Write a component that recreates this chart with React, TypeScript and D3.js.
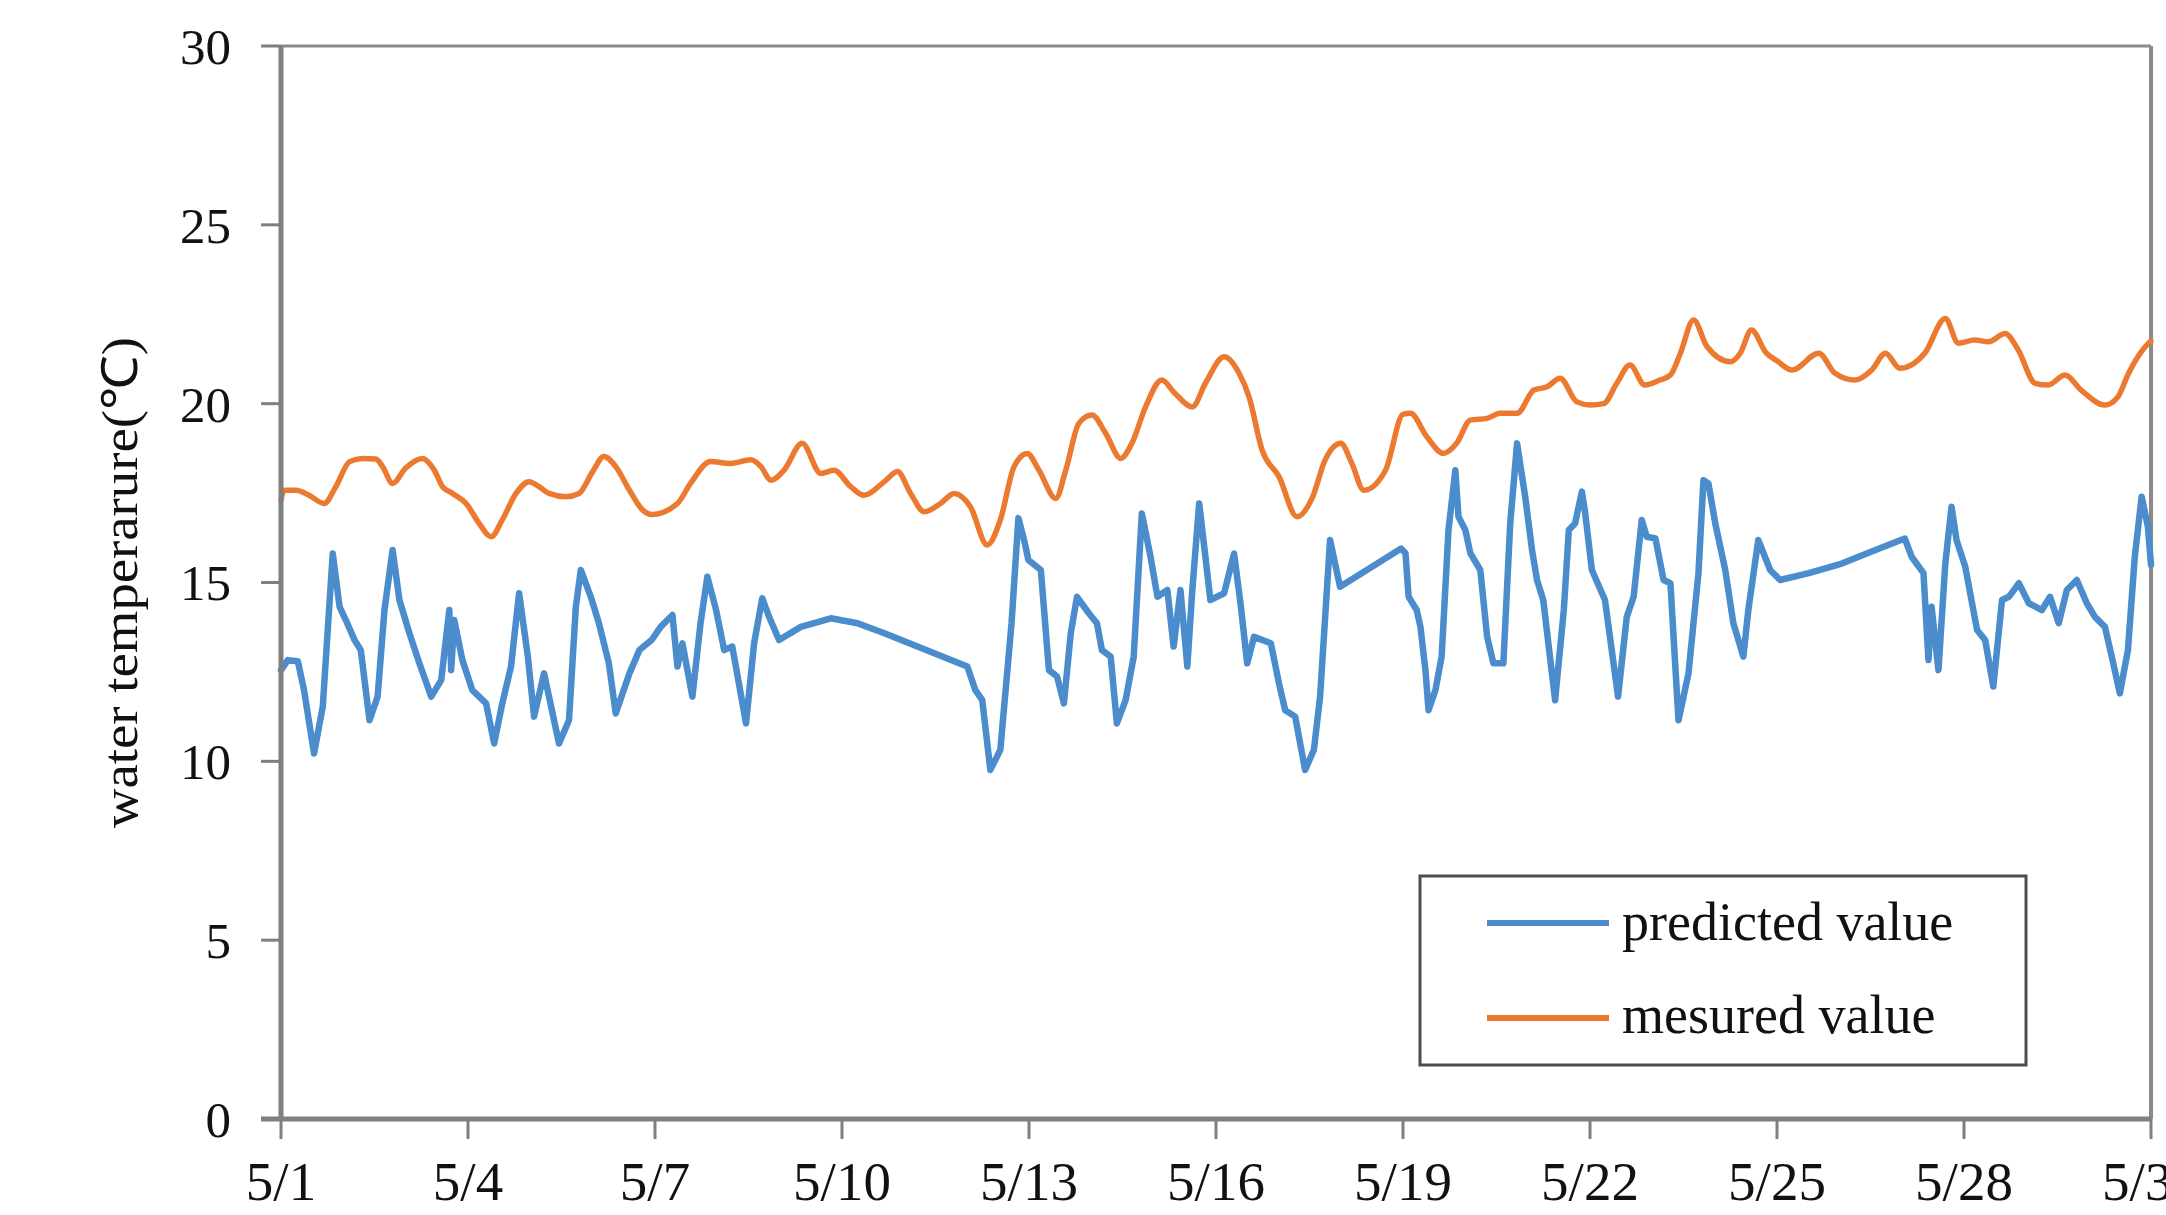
import React from "react";
import * as d3 from "d3";

// ---- data (day offset from 5/1, water temperature in °C) ----
const predictedSeries: [number, number][] = [
  [0, 12.55], [0.11, 12.83], [0.27, 12.8], [0.37, 11.99], [0.53, 10.22], [0.67, 11.53], [0.83, 15.81],
  [0.94, 14.32], [1.04, 13.95], [1.18, 13.39], [1.28, 13.11], [1.42, 11.15], [1.55, 11.81], [1.66, 14.23],
  [1.79, 15.91], [1.9, 14.51], [2.06, 13.58], [2.22, 12.74], [2.41, 11.81], [2.57, 12.27], [2.7, 14.23],
  [2.73, 12.55], [2.78, 13.95], [2.91, 12.83], [3.07, 11.99], [3.29, 11.62], [3.42, 10.5], [3.55, 11.62],
  [3.69, 12.65], [3.82, 14.7], [3.96, 12.93], [4.06, 11.25], [4.22, 12.46], [4.46, 10.5], [4.62, 11.15],
  [4.73, 14.32], [4.81, 15.35], [4.97, 14.6], [5.1, 13.86], [5.26, 12.74], [5.37, 11.34], [5.59, 12.46],
  [5.75, 13.11], [5.95, 13.4], [6.09, 13.76], [6.28, 14.09], [6.36, 12.65], [6.44, 13.3], [6.6, 11.81],
  [6.73, 13.86], [6.84, 15.16], [6.98, 14.23], [7.11, 13.11], [7.24, 13.21], [7.46, 11.06], [7.59, 13.3],
  [7.72, 14.56], [7.83, 14.04], [7.99, 13.39], [8.34, 13.76], [8.82, 14.0], [9.25, 13.86], [9.68, 13.58],
  [10.21, 13.21], [11.01, 12.65], [11.14, 11.99], [11.25, 11.71], [11.38, 9.76], [11.54, 10.32],
  [11.72, 13.86], [11.83, 16.8], [11.92, 16.2], [11.99, 15.63], [12.19, 15.35], [12.32, 12.55],
  [12.45, 12.37], [12.56, 11.62], [12.67, 13.58], [12.77, 14.6], [12.96, 14.14], [13.09, 13.86],
  [13.17, 13.11], [13.31, 12.93], [13.41, 11.06], [13.55, 11.71], [13.68, 12.93], [13.81, 16.93],
  [13.95, 15.72], [14.06, 14.6], [14.22, 14.79], [14.32, 13.21], [14.43, 14.79], [14.54, 12.65],
  [14.62, 14.79], [14.73, 17.21], [14.83, 15.72], [14.91, 14.51], [15.13, 14.7], [15.29, 15.81],
  [15.4, 14.32], [15.5, 12.74], [15.61, 13.48], [15.88, 13.3], [16.01, 12.18], [16.11, 11.43],
  [16.27, 11.25], [16.43, 9.76], [16.57, 10.32], [16.67, 11.81], [16.83, 16.19], [16.99, 14.88],
  [17.97, 15.95], [18.04, 15.82], [18.09, 14.6], [18.22, 14.23], [18.28, 13.76], [18.36, 12.55],
  [18.41, 11.43], [18.52, 11.99], [18.62, 12.93], [18.73, 16.47], [18.84, 18.14], [18.89, 16.84],
  [19.0, 16.47], [19.08, 15.82], [19.24, 15.35], [19.35, 13.48], [19.45, 12.74], [19.61, 12.74],
  [19.72, 16.65], [19.83, 18.89], [19.96, 17.4], [20.07, 15.91], [20.15, 15.07], [20.25, 14.51],
  [20.44, 11.71], [20.58, 14.23], [20.66, 16.47], [20.76, 16.65], [20.87, 17.54], [20.92, 16.98],
  [21.03, 15.35], [21.24, 14.51], [21.45, 11.81], [21.59, 14.04], [21.7, 14.6], [21.83, 16.75],
  [21.91, 16.28], [22.05, 16.23], [22.18, 15.07], [22.29, 14.98], [22.42, 11.15], [22.58, 12.46],
  [22.74, 15.26], [22.82, 17.86], [22.9, 17.77], [23.01, 16.65], [23.17, 15.35], [23.3, 13.86],
  [23.46, 12.93], [23.54, 14.23], [23.7, 16.19], [23.89, 15.35], [24.05, 15.07], [24.51, 15.26],
  [25.04, 15.53], [25.58, 15.91], [26.05, 16.23], [26.16, 15.72], [26.35, 15.26], [26.43, 12.83],
  [26.48, 14.32], [26.59, 12.55], [26.7, 15.53], [26.8, 17.12], [26.88, 16.19], [27.02, 15.44],
  [27.21, 13.67], [27.34, 13.39], [27.47, 12.09], [27.61, 14.51], [27.72, 14.6], [27.88, 14.98],
  [28.04, 14.42], [28.25, 14.23], [28.38, 14.6], [28.52, 13.86], [28.65, 14.79], [28.81, 15.07],
  [28.97, 14.42], [29.1, 14.04], [29.26, 13.76], [29.37, 12.93], [29.5, 11.9], [29.63, 13.11],
  [29.74, 15.72], [29.85, 17.4], [29.95, 16.56], [30.0, 15.5],
];

const measuredSeries: [number, number][] = [
  [0, 17.3], [0.05, 17.58], [0.24, 17.58], [0.45, 17.44], [0.69, 17.21], [0.88, 17.68], [1.1, 18.38],
  [1.31, 18.47], [1.52, 18.45], [1.63, 18.24], [1.79, 17.77], [2.0, 18.2], [2.27, 18.47], [2.46, 18.14],
  [2.59, 17.68], [2.75, 17.49], [2.97, 17.21], [3.18, 16.65], [3.37, 16.28], [3.55, 16.75], [3.77, 17.49],
  [3.98, 17.82], [4.14, 17.68], [4.3, 17.49], [4.57, 17.4], [4.78, 17.49], [5.0, 18.1], [5.18, 18.52],
  [5.37, 18.24], [5.59, 17.58], [5.8, 17.03], [5.95, 16.9], [6.36, 17.21], [6.57, 17.77], [6.89, 18.38],
  [7.21, 18.33], [7.54, 18.43], [7.7, 18.24], [7.86, 17.86], [8.07, 18.14], [8.36, 18.89], [8.66, 18.05],
  [8.87, 18.14], [9.14, 17.68], [9.35, 17.44], [9.68, 17.82], [9.89, 18.1], [10.1, 17.49], [10.32, 16.98],
  [10.58, 17.21], [10.8, 17.49], [11.06, 17.12], [11.33, 16.05], [11.54, 16.75], [11.76, 18.24],
  [11.97, 18.61], [12.16, 18.14], [12.43, 17.35], [12.59, 18.14], [12.8, 19.45], [13.01, 19.68],
  [13.23, 19.17], [13.47, 18.47], [13.65, 18.89], [13.87, 19.91], [14.13, 20.66], [14.34, 20.29],
  [14.62, 19.91], [14.83, 20.57], [15.13, 21.31], [15.37, 20.85], [15.53, 20.19], [15.74, 18.7],
  [16.01, 17.96], [16.3, 16.84], [16.54, 17.35], [16.75, 18.42], [17.0, 18.89], [17.18, 18.33],
  [17.37, 17.58], [17.72, 18.14], [18.0, 19.7], [18.12, 19.73], [18.38, 19.08], [18.65, 18.61],
  [18.86, 18.89], [19.08, 19.54], [19.35, 19.59], [19.56, 19.73], [19.83, 19.73], [20.1, 20.38],
  [20.31, 20.47], [20.52, 20.71], [20.79, 20.05], [21.01, 19.96], [21.22, 20.0], [21.43, 20.57],
  [21.64, 21.08], [21.88, 20.52], [22.12, 20.66], [22.29, 20.8], [22.45, 21.41], [22.66, 22.34],
  [22.88, 21.59], [23.25, 21.17], [23.41, 21.41], [23.59, 22.06], [23.83, 21.41], [24.0, 21.2],
  [24.24, 20.94], [24.67, 21.41], [24.93, 20.85], [25.25, 20.66], [25.52, 20.94], [25.74, 21.41],
  [25.97, 20.99], [26.37, 21.41], [26.7, 22.38], [26.91, 21.69], [27.17, 21.78], [27.39, 21.73],
  [27.66, 21.96], [27.87, 21.5], [28.14, 20.57], [28.35, 20.52], [28.62, 20.8], [28.88, 20.38],
  [29.26, 19.96], [29.47, 20.19], [29.64, 20.85], [29.96, 21.69], [30.0, 21.75],
];

const xTickDays = [0, 3, 6, 9, 12, 15, 18, 21, 24, 27, 30];
const xTickLabels = ["5/1", "5/4", "5/7", "5/10", "5/13", "5/16", "5/19", "5/22", "5/25", "5/28", "5/31"];
const yTicks = [0, 5, 10, 15, 20, 25, 30];
const seriesNames = ["predicted value", "mesured value"];
const seriesColors = ["#4a8ccc", "#eb7a30"];
const yTitle = "water temperarure(℃)";

const W = 2166;
const H = 1215;
const left = 281;
const right = 2151;
const top = 46;
const bottom = 1119;
const FONT = "'Liberation Serif', 'Times New Roman', serif";

export default function App() {
  const x = d3.scaleLinear().domain([0, 30]).range([left, right]);
  const y = d3.scaleLinear().domain([0, 30]).range([bottom, top]);
  const linePred = d3
    .line<[number, number]>()
    .x((d) => x(d[0]))
    .y((d) => y(d[1]));
  const lineMeas = d3
    .line<[number, number]>()
    .x((d) => x(d[0]))
    .y((d) => y(d[1]))
    .curve(d3.curveMonotoneX);

  const axisColor = "#7f7f7f";
  const legend = { x: 1420, y: 876, w: 606, h: 189 };

  return (
    <svg
      width={W}
      height={H}
      style={{ position: "absolute", left: 0, top: 0, background: "#fff" }}
      fontFamily={FONT}
    >
      <rect x={0} y={0} width={W} height={H} fill="#fff" />
      {/* frame top/right */}
      <line x1={left} x2={right} y1={top} y2={top} stroke="#8a8a8a" strokeWidth={3} />
      <line x1={right} x2={right} y1={top} y2={bottom} stroke="#8a8a8a" strokeWidth={4} />

      {/* series */}
      <path
        d={lineMeas(measuredSeries) || ""}
        fill="none"
        stroke={seriesColors[1]}
        strokeWidth={5.5}
        strokeLinejoin="round"
        strokeLinecap="round"
      />
      <path
        d={linePred(predictedSeries) || ""}
        fill="none"
        stroke={seriesColors[0]}
        strokeWidth={6.5}
        strokeLinejoin="round"
        strokeLinecap="round"
      />

      {/* y axis */}
      <line x1={left} x2={left} y1={top} y2={bottom} stroke={axisColor} strokeWidth={5} />
      {yTicks.map((t) => (
        <g key={"y" + t}>
          <line x1={left - 20} x2={left} y1={y(t)} y2={y(t)} stroke={axisColor} strokeWidth={3} />
          <text
            x={231}
            y={y(t)}
            dy="0.35em"
            textAnchor="end"
            fontSize={51}
            fill="#111"
          >
            {t}
          </text>
        </g>
      ))}

      {/* x axis */}
      <line x1={left - 20} x2={right} y1={bottom} y2={bottom} stroke={axisColor} strokeWidth={5} />
      {xTickDays.map((d, i) => (
        <g key={"x" + d}>
          <line x1={x(d)} x2={x(d)} y1={bottom} y2={bottom + 20} stroke={axisColor} strokeWidth={3} />
          <text x={x(d)} y={1200} textAnchor="middle" fontSize={55} fill="#111">
            {xTickLabels[i]}
          </text>
        </g>
      ))}

      {/* y title */}
      <text
        transform={`translate(137, ${(top + bottom) / 2}) rotate(-90)`}
        textAnchor="middle"
        fontSize={50}
        fill="#111"
        textLength={491}
        lengthAdjust="spacingAndGlyphs"
      >
        {yTitle}
      </text>

      {/* legend */}
      <rect
        x={legend.x}
        y={legend.y}
        width={legend.w}
        height={legend.h}
        fill="#fff"
        stroke="#4d4d4d"
        strokeWidth={3}
      />
      {seriesNames.map((name, i) => (
        <g key={name}>
          <line
            x1={1487}
            x2={1609}
            y1={923 + i * 95}
            y2={923 + i * 95}
            stroke={seriesColors[i]}
            strokeWidth={6}
          />
          <text x={1622} y={940 + i * 93} fontSize={54} fill="#111">
            {name}
          </text>
        </g>
      ))}
    </svg>
  );
}
